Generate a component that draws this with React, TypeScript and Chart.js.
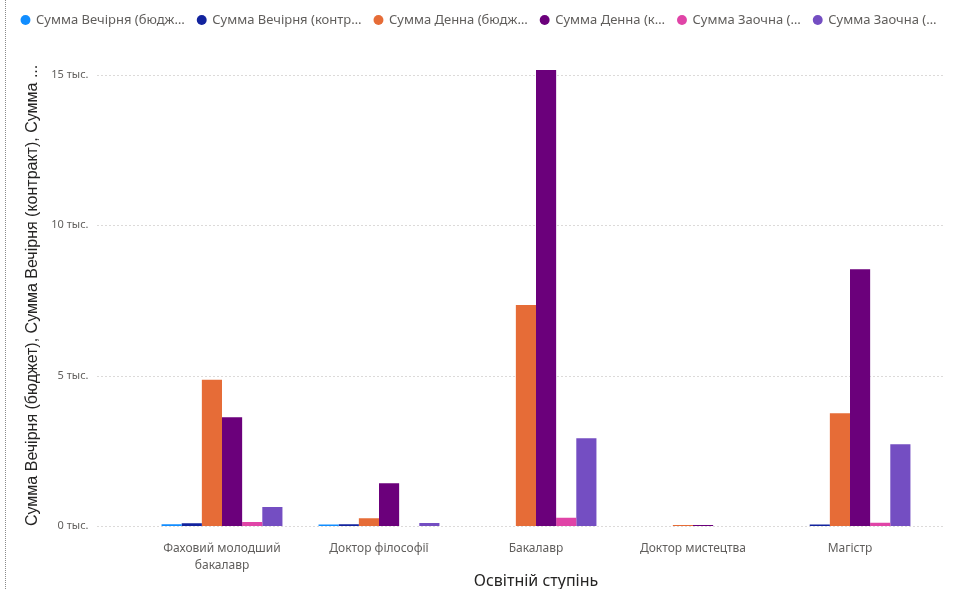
import React, { useEffect, useRef } from 'react';
import { Chart, registerables } from 'chart.js';

Chart.register(...registerables);

const categories: (string | string[])[] = [
  ['Фаховий молодший', 'бакалавр'],
  'Доктор філософії',
  'Бакалавр',
  'Доктор мистецтва',
  'Магістр',
];

const seriesNames = [
  'Сумма Вечірня (бюджет)',
  'Сумма Вечірня (контракт)',
  'Сумма Денна (бюджет)',
  'Сумма Денна (контракт)',
  'Сумма Заочна (бюджет)',
  'Сумма Заочна (контракт)',
];

const legendLabels = [
  'Сумма Вечірня (бюдж…',
  'Сумма Вечірня (контр…',
  'Сумма Денна (бюдж…',
  'Сумма Денна (к…',
  'Сумма Заочна (…',
  'Сумма Заочна (…',
];

const seriesColors = ['#118DFF', '#12239E', '#E66C37', '#6B007B', '#E044A7', '#744EC2'];

const eveningBudget = [60, 50, 0, 0, 0];
const eveningContract = [90, 60, 0, 0, 50];
const dayBudget = [4860, 255, 7350, 30, 3750];
const dayContract = [3615, 1420, 15170, 30, 8540];
const extramuralBudget = [130, 0, 275, 0, 110];
const extramuralContract = [630, 100, 2915, 0, 2715];

const yTicks = [0, 5000, 10000, 15000];
const yTitle = 'Сумма Вечірня (бюджет), Сумма Вечірня (контракт), Сумма ...';
const xTitle = 'Освітній ступінь';

const seriesValues = [eveningBudget, eveningContract, dayBudget, dayContract, extramuralBudget, extramuralContract];

const gridPlugin = {
  id: 'dottedGrid',
  beforeDatasetsDraw(chart: any) {
    const { ctx, chartArea, scales } = chart;
    const y = scales.y;
    ctx.save();
    ctx.strokeStyle = '#B8B5B2';
    ctx.lineWidth = 1;
    ctx.setLineDash([1, 3]);
    yTicks.forEach((v) => {
      const py = Math.round(y.getPixelForValue(v)) + 0.5;
      ctx.beginPath();
      ctx.moveTo(chartArea.left - 46, py);
      ctx.lineTo(chartArea.right + 17, py);
      ctx.stroke();
    });
    ctx.restore();
  },
};

export default function App() {
  const canvasRef = useRef<HTMLCanvasElement | null>(null);

  useEffect(() => {
    if (!canvasRef.current) return;
    const chart = new Chart(canvasRef.current, {
      type: 'bar',
      data: {
        labels: categories as any,
        datasets: seriesNames.map((name, i) => ({
          label: name,
          data: seriesValues[i],
          backgroundColor: seriesColors[i],
          borderWidth: 0,
          categoryPercentage: 0.77,
          barPercentage: 1.0,
          yAxisID: 'y',
        })),
      },
      options: {
        responsive: false,
        animation: false,
        devicePixelRatio: 1,
        layout: { padding: { top: 0.5, right: 0, left: 0, bottom: 0 } },
        plugins: {
          tooltip: { enabled: false },
          legend: {
            display: true,
            position: 'top',
            labels: {
              usePointStyle: true,
              pointStyle: 'circle',
              boxWidth: 8,
              boxHeight: 7,
              padding: 13,
              color: '#605E5C',
              font: { family: '"Segoe UI", "Noto Sans", sans-serif', size: 13 },
              generateLabels: () =>
                seriesNames.map((_, i) => ({
                  text: legendLabels[i],
                  fillStyle: seriesColors[i],
                  strokeStyle: seriesColors[i],
                  lineWidth: 0,
                  pointStyle: 'circle',
                  hidden: false,
                  datasetIndex: i,
                  fontColor: '#605E5C',
                })),
            },
          },
        },
        scales: {
          x: {
            offset: true,
            grid: { display: false, drawTicks: false },
            border: { display: false },
            ticks: {
              color: '#605E5C',
              padding: 14,
              maxRotation: 0,
              autoSkip: false,
              font: { family: '"Segoe UI", "Noto Sans", sans-serif', size: 12, lineHeight: 1.4 },
            },
            title: {
              display: true,
              text: xTitle,
              color: '#252423',
              padding: { top: 0, bottom: 0 },
              font: { family: '"Segoe UI", "Noto Sans", sans-serif', size: 16, lineHeight: 1.0 },
            },
            afterFit: (scale: any) => {
              scale.height = 63;
            },
          },
          y: {
            position: 'left',
            min: 0,
            max: 16280,
            grid: { display: false, drawTicks: false },
            border: { display: false },
            afterBuildTicks: (axis: any) => {
              axis.ticks = yTicks.map((v) => ({ value: v }));
            },
            ticks: {
              color: '#605E5C',
              padding: 55,
              font: { family: '"Segoe UI", "Noto Sans", sans-serif', size: 11 },
              callback: (v: any) => `${Number(v) / 1000} тыс.`,
            },
            title: {
              display: true,
              text: yTitle,
              align: 'start',
              color: '#252423',
              padding: { top: 23, bottom: 0 },
              font: { family: 'Arial, "Liberation Sans", sans-serif', size: 16 },
            },
            afterFit: (scale: any) => {
              scale.width = 143.5;
              scale.paddingTop = 0;
              scale.paddingBottom = 0;
            },
          },
          yRight: {
            position: 'right',
            display: true,
            min: 0,
            max: 1,
            grid: { display: false, drawTicks: false },
            border: { display: false },
            ticks: { display: false },
            afterFit: (scale: any) => {
              scale.width = 29.5;
              scale.paddingTop = 0;
              scale.paddingBottom = 0;
            },
          },
        },
      },
      plugins: [gridPlugin],
    } as any);
    return () => chart.destroy();
  }, []);

  return (
    <div
      style={{
        position: 'fixed',
        left: 0,
        top: 0,
        width: 958,
        height: 589,
        background: '#ffffff',
        overflow: 'hidden',
      }}
    >
      <div
        style={{
          position: 'absolute',
          left: 5,
          top: 0,
          width: 0,
          height: 589,
          borderLeft: '1px dotted #8a8a8a',
        }}
      />
      <canvas ref={canvasRef} width={958} height={589} style={{ display: 'block', width: 958, height: 589 }} />
    </div>
  );
}
